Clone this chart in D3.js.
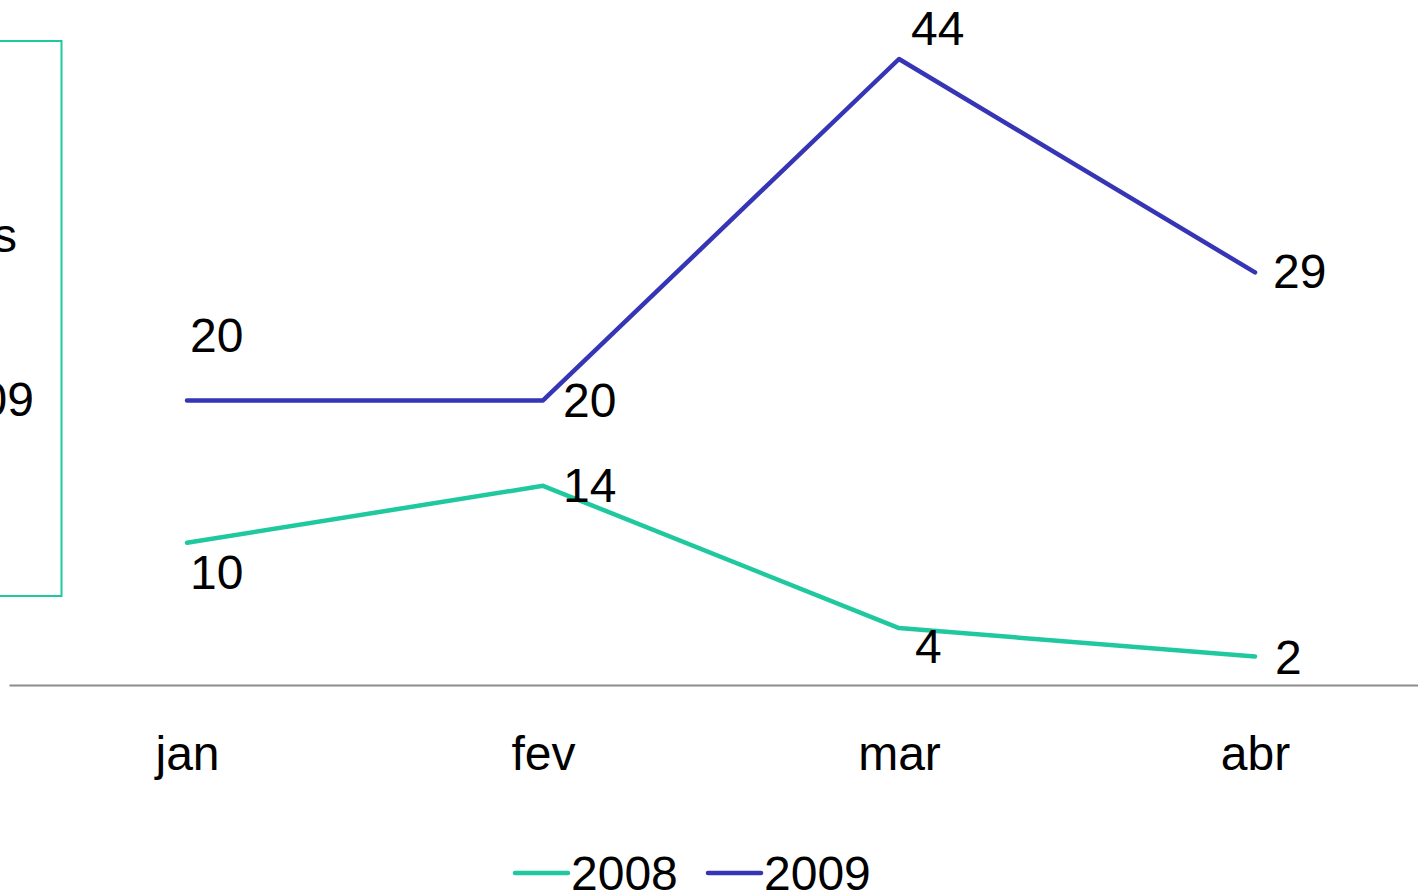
<!DOCTYPE html>
<html>
<head>
<meta charset="utf-8">
<script src="https://cdn.jsdelivr.net/npm/d3@7"></script>
<style>
  html, body { margin: 0; padding: 0; background: #fff; }
  svg { display: block; font-family: "Liberation Sans", Arial, sans-serif; }
</style>
</head>
<body>
<svg id="chart" width="1418" height="891"></svg>
<script>
// Monthly values per year
const months = ["jan", "fev", "mar", "abr"];
const values2008 = [10, 14, 4, 2];
const values2009 = [20, 20, 44, 29];
const seriesNames = ["2008", "2009"];

// Label offsets from each point (dx, dy), per series
const labelOffsets2008 = [[3, 46], [20, 16], [16, 35], [20, 17]];
const labelOffsets2009 = [[3, -48], [20, 17], [12, -14], [18, 16]];

const colors = { "2008": "#1fc89f", "2009": "#3535b5" };
const fontSize = 48;

const series = [
  { name: seriesNames[0], values: values2008, offsets: labelOffsets2008 },
  { name: seriesNames[1], values: values2009, offsets: labelOffsets2009 }
];

const svg = d3.select("#chart");

const x = d3.scalePoint().domain(months).range([9, 1433]).padding(0.5);
const y = d3.scaleLinear().domain([0, 44]).range([685, 59]);

// Side text box (partly outside the frame)
const box = svg.append("g");
box.append("rect")
  .attr("x", -40).attr("y", 41)
  .attr("width", 101.5).attr("height", 555)
  .attr("fill", "none")
  .attr("stroke", colors["2008"])
  .attr("stroke-width", 2);
box.append("text")
  .attr("x", 17).attr("y", 252)
  .attr("text-anchor", "end")
  .attr("font-size", fontSize)
  .text("Vendas");
box.append("text")
  .attr("x", 34).attr("y", 416)
  .attr("text-anchor", "end")
  .attr("font-size", fontSize)
  .text("2008 e 2009");

// Category axis
const axis = svg.append("g")
  .attr("transform", `translate(0,${y(0)})`)
  .call(d3.axisBottom(x).tickSize(0).tickSizeOuter(0).tickPadding(51));
axis.select(".domain").attr("stroke", "#8c8c8c").attr("stroke-width", 2);
axis.selectAll(".tick text")
  .attr("font-size", fontSize)
  .attr("font-family", "\"Liberation Sans\", Arial, sans-serif")
  .attr("fill", "#000");

// Lines
const line = d3.line()
  .x((d, i) => x(months[i]))
  .y(d => y(d));

svg.append("g")
  .selectAll("path")
  .data(series)
  .join("path")
  .attr("d", s => line(s.values))
  .attr("fill", "none")
  .attr("stroke", s => colors[s.name])
  .attr("stroke-width", 4.5)
  .attr("stroke-linejoin", "round")
  .attr("stroke-linecap", "round");

// Value labels
series.forEach(s => {
  svg.append("g")
    .selectAll("text")
    .data(s.values)
    .join("text")
    .attr("x", (d, i) => x(months[i]) + s.offsets[i][0])
    .attr("y", (d, i) => y(d) + s.offsets[i][1])
    .attr("font-size", fontSize)
    .attr("fill", "#000")
    .text(d => d);
});

// Legend
const legendX = [515, 708];
const legend = svg.append("g")
  .selectAll("g")
  .data(series)
  .join("g")
  .attr("transform", (s, i) => `translate(${legendX[i]},873)`);
legend.append("line")
  .attr("x1", 0).attr("x2", 53)
  .attr("y1", 0).attr("y2", 0)
  .attr("stroke", s => colors[s.name])
  .attr("stroke-width", 4.5)
  .attr("stroke-linecap", "round");
legend.append("text")
  .attr("x", 56).attr("y", 17)
  .attr("font-size", fontSize)
  .attr("fill", "#000")
  .text(s => s.name);
</script>
</body>
</html>
